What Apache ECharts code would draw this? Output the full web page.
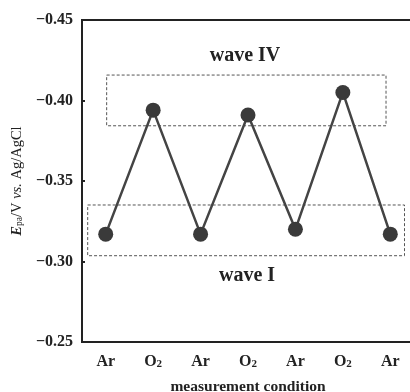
<!DOCTYPE html>
<html><head><meta charset="utf-8">
<script src="https://cdn.jsdelivr.net/npm/echarts@6/dist/echarts.min.js"></script>
<style>html,body{margin:0;padding:0;background:#fff}#c{width:410px;height:392px}</style>
</head><body><div id="c"></div>
<script>
const categories = ['Ar', 'O2', 'Ar', 'O2', 'Ar', 'O2', 'Ar'];
const potentials = [-0.317, -0.394, -0.317, -0.391, -0.320, -0.405, -0.317];
const yTicks = { min: -0.45, max: -0.25, interval: 0.05 };
const waveIVBox = { x: [0.02, 5.91], y: [-0.4158, -0.3843] };
const waveIBox = { x: [-0.38, 6.3], y: [-0.3351, -0.3036] };

const serif = '"Liberation Serif", "DejaVu Serif", serif';
const chart = echarts.init(document.getElementById('c'), null, { renderer: 'canvas' });
const boxStyle = { color: 'rgba(0,0,0,0)', borderColor: '#555', borderWidth: 1, borderType: [3, 2] };
chart.setOption({
  animation: false,
  grid: { left: 82, top: 20, width: 332, height: 322, containLabel: false, outerBoundsMode: 'none',
          show: true, borderColor: '#222', borderWidth: 2, backgroundColor: 'transparent' },
  xAxis: [{
    type: 'category', data: categories, boundaryGap: true,
    axisLine: { onZero: false, lineStyle: { color: '#222', width: 2 } },
    axisTick: { show: false },
    axisLabel: {
      interval: 0, margin: 8, color: '#222', fontFamily: serif, fontWeight: 'bold', fontSize: 16,
      formatter: v => v === 'O2' ? '{n|O}{s|2}' : '{n|' + v + '}',
      rich: { n: { fontFamily: serif, fontWeight: 'bold', fontSize: 16, color: '#222', lineHeight: 20, verticalAlign: 'bottom' },
              s: { fontFamily: serif, fontWeight: 'bold', fontSize: 11, color: '#222', lineHeight: 9, verticalAlign: 'bottom' } }
    },
    name: 'measurement condition', nameLocation: 'middle', nameGap: 37,
    nameTextStyle: { fontFamily: serif, fontWeight: 'bold', fontSize: 15.5, color: '#222' }
  }, {
    type: 'value', min: -0.5, max: 6.5, show: false, position: 'bottom'
  }],
  yAxis: {
    type: 'value', inverse: true, min: yTicks.min, max: yTicks.max, interval: yTicks.interval,
    axisLine: { show: true, onZero: false, lineStyle: { color: '#222', width: 2 } },
    axisTick: { show: true, inside: true, length: 3, lineStyle: { color: '#222', width: 2 } },
    splitLine: { show: false },
    axisLabel: {
      margin: 9, color: '#222', fontFamily: serif, fontWeight: 'bold', fontSize: 16,
      formatter: v => v.toFixed(2).replace('-', '\u2212')
    },
    name: '{i|E}{s|pa}{n|/V }{i2|vs.}{n| Ag/AgCl}', nameLocation: 'middle', nameGap: 52,
    nameTextStyle: {
      rich: {
        i: { fontFamily: serif, fontStyle: 'italic', fontWeight: 'bold', fontSize: 14.5, color: '#222', lineHeight: 18, verticalAlign: 'bottom' },
        s: { fontFamily: serif, fontSize: 9.5, color: '#222', lineHeight: 9, verticalAlign: 'bottom' },
        n: { fontFamily: serif, fontSize: 14.5, color: '#222', lineHeight: 18, verticalAlign: 'bottom' },
        i2: { fontFamily: serif, fontStyle: 'italic', fontSize: 14.5, color: '#222', lineHeight: 18, verticalAlign: 'bottom' }
      }
    }
  },
  series: [{
    type: 'line', data: potentials, xAxisIndex: 0,
    symbol: 'circle', symbolSize: 15,
    lineStyle: { color: '#444', width: 2.5 },
    itemStyle: { color: '#3a3a3a' },
    z: 3
  }, {
    type: 'line', xAxisIndex: 1, data: [],
    markArea: {
      silent: true,
      itemStyle: boxStyle,
      data: [
        [{ xAxis: waveIVBox.x[0], yAxis: waveIVBox.y[0] }, { xAxis: waveIVBox.x[1], yAxis: waveIVBox.y[1] }],
        [{ xAxis: waveIBox.x[0], yAxis: waveIBox.y[0] }, { xAxis: waveIBox.x[1], yAxis: waveIBox.y[1] }]
      ]
    }
  }],
  graphic: [
    { type: 'text', x: 245, y: 56, style: { text: 'wave IV', font: 'bold 20px ' + serif, fill: '#222', align: 'center', verticalAlign: 'middle' } },
    { type: 'text', x: 247, y: 276, style: { text: 'wave I', font: 'bold 20px ' + serif, fill: '#222', align: 'center', verticalAlign: 'middle' } }
  ]
});
</script></body></html>
